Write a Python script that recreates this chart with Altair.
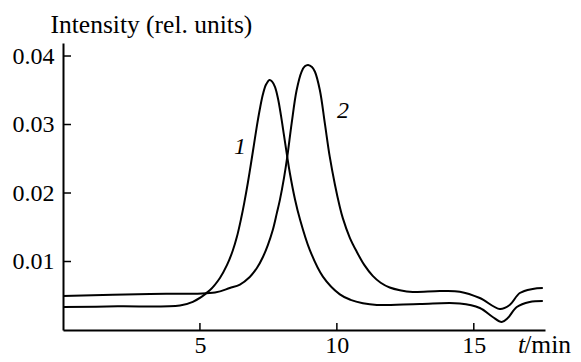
import altair as alt
import pandas as pd

# Curve 1 (lower baseline on the left, first peak)
t1 = [0.0, 2.0, 4.27, 4.74, 5.36, 5.73, 5.99, 6.20, 6.35, 6.50, 6.62, 6.75, 6.86,
      6.97, 7.08, 7.19, 7.30, 7.41, 7.54, 7.63, 7.74, 7.85, 7.96, 8.07, 8.18, 8.28,
      8.47, 8.65, 9.01, 9.49, 10.11, 10.5, 10.95, 11.46, 13.03, 14.49, 15.22, 15.69,
      16.02, 16.24, 16.57, 17.04, 17.52]
v1 = [0.00336, 0.00345, 0.00358, 0.0041, 0.0058, 0.0076, 0.0095, 0.0116, 0.0136,
      0.0162, 0.0186, 0.0215, 0.0242, 0.0270, 0.0298, 0.0323, 0.0344, 0.0358, 0.0365,
      0.0363, 0.0355, 0.0338, 0.0313, 0.0284, 0.0255, 0.0230, 0.0191, 0.0162, 0.0117,
      0.0078, 0.0052, 0.0044, 0.0039, 0.00365, 0.0038, 0.00387, 0.00321, 0.0019,
      0.00117, 0.00175, 0.00336, 0.00409, 0.00423]

# Curve 2 (upper baseline on the left, second peak)
t2 = [0.0, 3.18, 5.55, 6.09, 6.46, 6.82, 7.08, 7.30, 7.48, 7.66, 7.81, 7.92, 8.07,
      8.19, 8.35, 8.53, 8.71, 8.83, 8.95, 9.09, 9.20, 9.38, 9.56, 9.74, 9.93, 10.10,
      10.22, 10.47, 10.73, 11.0, 11.31, 11.6, 11.93, 12.3, 12.77, 13.76, 14.49, 15.22,
      15.95, 16.31, 16.68, 17.15, 17.52]
v2 = [0.00496, 0.00526, 0.00547, 0.00613, 0.00664, 0.00774, 0.00905, 0.01066, 0.0124,
      0.0146, 0.0171, 0.019, 0.0222, 0.0253, 0.0302, 0.035, 0.0377, 0.0385, 0.0387,
      0.0384, 0.0377, 0.035, 0.0302, 0.0253, 0.0212, 0.0181, 0.0163, 0.0135, 0.0114,
      0.0095, 0.0079, 0.0069, 0.0062, 0.0058, 0.00555, 0.00569, 0.0056, 0.00467,
      0.00307, 0.00365, 0.0054, 0.006, 0.00613]

x_ticks = [5, 10, 15]
y_ticks = [0.01, 0.02, 0.03, 0.04]

label_text = ["1", "2"]
label_t = [6.46, 10.22]
label_v = [0.0267, 0.032]

X_DOMAIN = [0, 17.6]
Y_DOMAIN = [0, 0.0419]
W, H = 482, 287
FONT = "Liberation Serif, DejaVu Serif, serif"

df = pd.concat([
    pd.DataFrame({"t": t1, "v": v1, "curve": "1"}),
    pd.DataFrame({"t": t2, "v": v2, "curve": "2"}),
])

xs = alt.Scale(domain=X_DOMAIN, nice=False, zero=False)
ys = alt.Scale(domain=Y_DOMAIN, nice=False, zero=False)

x_axis = alt.Axis(values=x_ticks, format="d", title=None, labelPadding=3, labelFlush=False,
                  labelFont=FONT)
y_axis = alt.Axis(values=y_ticks, format=".2f", title="Intensity (rel. units)",
                  titleAngle=0, titleAlign="left", titleBaseline="alphabetic",
                  titleX=-13, titleY=-11, labelPadding=9, labelFont=FONT, titleFont=FONT,
                  titleFontSize=25.5)

lines = alt.Chart(df).mark_line(color="black", strokeWidth=2, interpolate="catmull-rom").encode(
    x=alt.X("t:Q", scale=xs, axis=x_axis),
    y=alt.Y("v:Q", scale=ys, axis=y_axis),
    detail="curve:N",
)

yt = alt.Chart(pd.DataFrame({"v": y_ticks})).mark_rule(color="black", strokeWidth=1.5).encode(
    y=alt.Y("v:Q", scale=ys, axis=y_axis), x=alt.value(0), x2=alt.value(8)
)
xt = alt.Chart(pd.DataFrame({"t": x_ticks})).mark_rule(color="black", strokeWidth=1.5).encode(
    x=alt.X("t:Q", scale=xs, axis=x_axis), y=alt.value(H), y2=alt.value(H - 7)
)

labels = alt.Chart(pd.DataFrame({"s": label_text, "t": label_t, "v": label_v})).mark_text(
    font=FONT, fontSize=24, fontStyle="italic", color="black"
).encode(
    x=alt.X("t:Q", scale=xs, axis=x_axis), y=alt.Y("v:Q", scale=ys, axis=y_axis), text="s:N"
)

t_lab = alt.Chart(pd.DataFrame({"s": ["t"]})).mark_text(
    font=FONT, fontSize=25.5, fontStyle="italic", color="black", align="right", baseline="alphabetic"
).encode(x=alt.value(462), y=alt.value(310), text="s:N")
min_lab = alt.Chart(pd.DataFrame({"s": ["/min"]})).mark_text(
    font=FONT, fontSize=25.5, color="black", align="right", baseline="alphabetic"
).encode(x=alt.value(508), y=alt.value(310), text="s:N")

chart = alt.layer(lines, yt, xt, labels, t_lab, min_lab).properties(
    width=W, height=H,
    autosize=alt.AutoSizeParams(type="none"),
    padding={"left": 55, "top": 35, "right": 28, "bottom": 24},
).configure_view(stroke=None).configure_axis(
    domainColor="black", domainWidth=2, ticks=False, tickSize=0, grid=False,
    labelFont=FONT, labelFontSize=24, labelColor="black",
    titleFont=FONT, titleFontSize=24, titleFontWeight="normal", titleColor="black",
).configure_text(font=FONT)

chart.save("out.html", embed_options={"renderer": "svg", "actions": False})
